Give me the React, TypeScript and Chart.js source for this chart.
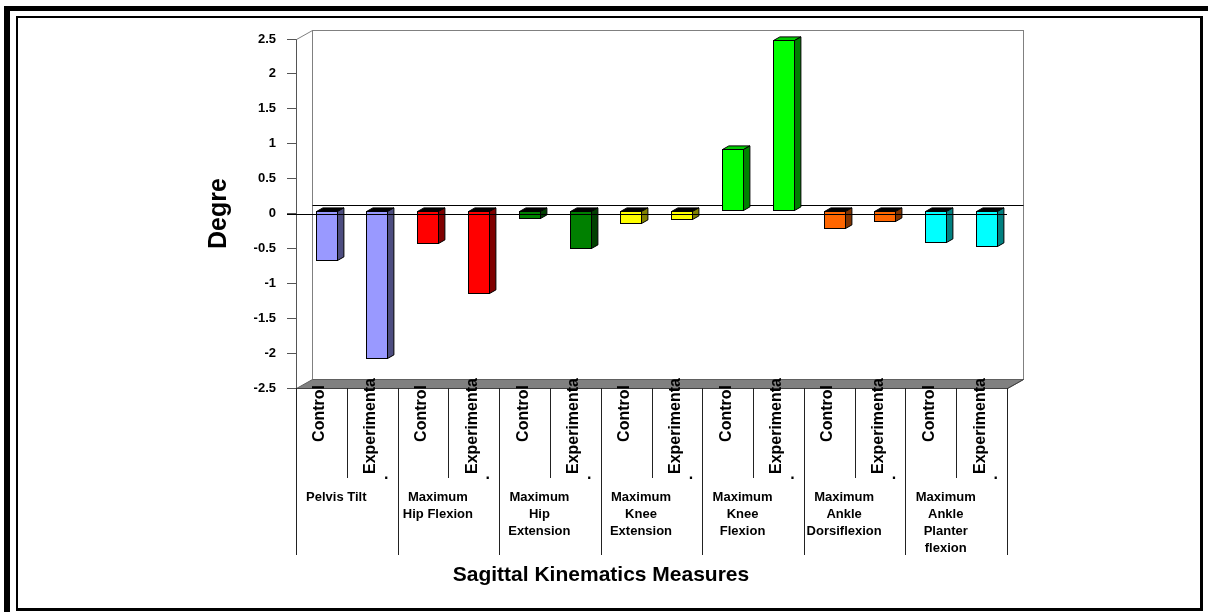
import React, { useEffect, useRef } from 'react';
import { Chart, registerables } from 'chart.js';

Chart.register(...registerables);

// ---- data ----
const measureLabels: string[][] = [
  ['Pelvis Tilt'],
  ['Maximum', 'Hip Flexion'],
  ['Maximum', 'Hip', 'Extension'],
  ['Maximum', 'Knee', 'Extension'],
  ['Maximum', 'Knee', 'Flexion'],
  ['Maximum', 'Ankle', 'Dorsiflexion'],
  ['Maximum', 'Ankle', 'Planter', 'flexion'],
];
const groupLabels = ['Control', 'Experimenta'];
const controlValues = [-0.70, -0.46, -0.10, -0.17, 0.88, -0.25, -0.45];
const experimentalValues = [-2.11, -1.18, -0.53, -0.12, 2.45, -0.15, -0.50];
const yMin = -2.5;
const yMax = 2.5;
const yStep = 0.5;
const yTitle = 'Degre';
const xTitle = 'Sagittal Kinematics Measures';

// ---- styles ----
const frontColors = ['#9999FF', '#FF0000', '#008000', '#FFFF00', '#00FF00', '#FF6600', '#00FFFF'];
const sideColors = ['#4D4D80', '#800000', '#004000', '#808000', '#008000', '#803300', '#008080'];
const topColors = ['#7A7ACC', '#CC0000', '#006600', '#CCCC00', '#00CC00', '#CC5200', '#00CCCC'];

const W = 1208;
const H = 612;
const DX = 16;
const DY = -9;
const FONT = '"Liberation Sans", Arial, Helvetica, sans-serif';

const categories: string[] = [];
const values: number[] = [];
const barFront: string[] = [];
const barSide: string[] = [];
const barTop: string[] = [];
measureLabels.forEach((_, i) => {
  categories.push(groupLabels[0], groupLabels[1]);
  values.push(controlValues[i], experimentalValues[i]);
  barFront.push(frontColors[i], frontColors[i]);
  barSide.push(sideColors[i], sideColors[i]);
  barTop.push(topColors[i], topColors[i]);
});

const poly = (ctx: CanvasRenderingContext2D, pts: number[][], fill: string) => {
  ctx.beginPath();
  ctx.moveTo(pts[0][0], pts[0][1]);
  for (let i = 1; i < pts.length; i++) ctx.lineTo(pts[i][0], pts[i][1]);
  ctx.closePath();
  ctx.fillStyle = fill;
  ctx.fill();
  ctx.stroke();
};

const threeDPlugin = {
  id: 'threeD',
  beforeDraw(chart: any) {
    const ctx: CanvasRenderingContext2D = chart.ctx;
    ctx.save();
    ctx.fillStyle = '#fff';
    ctx.fillRect(0, 0, W, H);
    ctx.fillStyle = '#000';
    ctx.fillRect(4, 6, W - 4, 5);
    ctx.fillRect(4, 6, 6, H - 6);
    ctx.fillRect(16, 16, 1187, 2);
    ctx.fillRect(16, 16, 2, 595);
    ctx.fillRect(1200, 16, 3, 595);
    ctx.fillRect(16, 608, 1187, 3);
    ctx.restore();
  },
  beforeDatasetsDraw(chart: any) {
    const ctx: CanvasRenderingContext2D = chart.ctx;
    const a = chart.chartArea;
    const y = chart.scales.y;
    const L = Math.round(a.left) + 0.5;
    const R = Math.round(a.right) + 0.5;
    const T = Math.round(a.top) + 0.5;
    const B = Math.round(a.bottom) + 0.5;
    ctx.save();
    ctx.lineWidth = 1;
    // back wall
    ctx.strokeStyle = '#808080';
    ctx.strokeRect(L + DX, T + DY, R - L, B - T);
    // left top diagonal
    ctx.beginPath();
    ctx.moveTo(L, T);
    ctx.lineTo(L + DX, T + DY);
    ctx.stroke();
    // floor
    ctx.strokeStyle = '#606060';
    poly(ctx, [[L, B], [R, B], [R + DX, B + DY], [L + DX, B + DY]], '#808080');
    ctx.strokeStyle = '#404040';
    ctx.beginPath();
    ctx.moveTo(L, B);
    ctx.lineTo(R, B);
    ctx.lineTo(R + DX, B + DY);
    ctx.stroke();
    // back zero line
    const y0 = Math.round(y.getPixelForValue(0)) + 0.5;
    ctx.strokeStyle = '#000';
    ctx.beginPath();
    ctx.moveTo(L + DX, y0 + DY);
    ctx.lineTo(R + DX, y0 + DY);
    ctx.stroke();
    ctx.restore();
  },
  afterDatasetsDraw(chart: any) {
    const ctx: CanvasRenderingContext2D = chart.ctx;
    const a = chart.chartArea;
    const xs = chart.scales.x;
    const ys = chart.scales.y;
    const meta = chart.getDatasetMeta(0);
    const fx = 0.3 * DX;
    const fy = 0.3 * DY;
    const bx = 0.4 * DX;
    const by = 0.4 * DY;
    ctx.save();
    ctx.lineWidth = 1;
    ctx.strokeStyle = '#000';
    meta.data.forEach((el: any, i: number) => {
      const v = values[i];
      const left = Math.round(el.x - el.width / 2 + fx) + 0.5;
      const right = Math.round(el.x + el.width / 2 + fx) + 0.5;
      const top = Math.round(Math.min(el.y, el.base) + fy) + 0.5;
      const bot = Math.round(Math.max(el.y, el.base) + fy) + 0.5;
      const topFill = v >= 0 ? barTop[i] : '#000';
      poly(ctx, [[left, top], [right, top], [right + bx, top + by], [left + bx, top + by]], topFill);
      poly(ctx, [[right, top], [right + bx, top + by], [right + bx, bot + by], [right, bot]], barSide[i]);
      ctx.fillStyle = barFront[i];
      ctx.fillRect(left, top, right - left, bot - top);
      ctx.strokeRect(left, top, right - left, bot - top);
    });
    // front zero line
    const y0 = Math.round(ys.getPixelForValue(0)) + 0.5;
    ctx.beginPath();
    ctx.moveTo(a.left - 9, y0);
    ctx.lineTo(a.right, y0);
    ctx.stroke();

    // category axis: separators and labels
    const B = Math.round(a.bottom);
    const cw = (a.right - a.left) / categories.length;
    ctx.strokeStyle = '#222';
    for (let g = 0; g <= measureLabels.length; g++) {
      const xg = Math.round(a.left + g * 2 * cw) + 0.5;
      ctx.beginPath();
      ctx.moveTo(xg, B);
      ctx.lineTo(xg, B + 167);
      ctx.stroke();
    }
    for (let g = 0; g < measureLabels.length; g++) {
      const xm = Math.round(a.left + (2 * g + 1) * cw) + 0.5;
      ctx.beginPath();
      ctx.moveTo(xm, B);
      ctx.lineTo(xm, B + 90);
      ctx.stroke();
    }
    ctx.fillStyle = '#000';
    ctx.font = `bold 16px ${FONT}`;
    categories.forEach((lab, i) => {
      const cx = xs.getPixelForValue(i);
      const isCtrl = i % 2 === 0;
      ctx.save();
      ctx.translate(cx + 3, isCtrl ? B - 3 : B - 10);
      ctx.rotate(-Math.PI / 2);
      ctx.textAlign = 'right';
      ctx.textBaseline = 'alphabetic';
      ctx.fillText(lab, 0, 0);
      ctx.restore();
      if (!isCtrl) {
        ctx.textAlign = 'center';
        ctx.textBaseline = 'alphabetic';
        ctx.fillText('.', cx + 14, B + 91);
      }
    });
    ctx.font = `bold 13px ${FONT}`;
    ctx.textAlign = 'center';
    ctx.textBaseline = 'middle';
    measureLabels.forEach((lines, g) => {
      const gc = a.left + (2 * g + 1) * cw - 10.5;
      lines.forEach((ln, k) => {
        ctx.fillText(ln, gc, B + 109 + k * 17);
      });
    });
    ctx.font = `bold 21px ${FONT}`;
    ctx.fillText(xTitle, 601, 575);
    ctx.restore();
  },
};

export default function App() {
  const ref = useRef<HTMLCanvasElement>(null);
  useEffect(() => {
    const chart = new Chart(ref.current as HTMLCanvasElement, {
      type: 'bar',
      data: {
        labels: categories,
        datasets: [
          {
            data: values,
            backgroundColor: 'rgba(0,0,0,0)',
            borderWidth: 0,
            barPercentage: 0.4135,
            categoryPercentage: 1,
          },
        ],
      },
      options: {
        animation: false,
        responsive: false,
        devicePixelRatio: 1,
        layout: { padding: { left: 186, top: 39, right: 201, bottom: 224 } },
        plugins: { legend: { display: false }, tooltip: { enabled: false } },
        scales: {
          x: { type: 'category', display: false, offset: true },
          y: {
            min: yMin,
            max: yMax,
            afterFit: (s: any) => {
              s.width = 110;
            },
            ticks: {
              stepSize: yStep,
              color: '#000',
              padding: 11,
              font: { family: FONT, size: 13, weight: 'bold' },
              callback: (v: any) => String(Math.round(Number(v) * 10) / 10),
            },
            grid: { drawOnChartArea: false, drawTicks: true, tickLength: 9, color: '#555' },
            border: { display: true, color: '#555' },
            title: {
              display: true,
              text: yTitle,
              color: '#000',
              font: { family: FONT, size: 25, weight: 'bold' },
              padding: { top: 18, bottom: 0 },
            },
          },
        },
      },
      plugins: [threeDPlugin],
    } as any);
    return () => chart.destroy();
  }, []);
  return (
    <div style={{ position: 'fixed', left: 0, top: 0, width: W, height: H }}>
      <canvas ref={ref} width={W} height={H} style={{ display: 'block' }} />
    </div>
  );
}
